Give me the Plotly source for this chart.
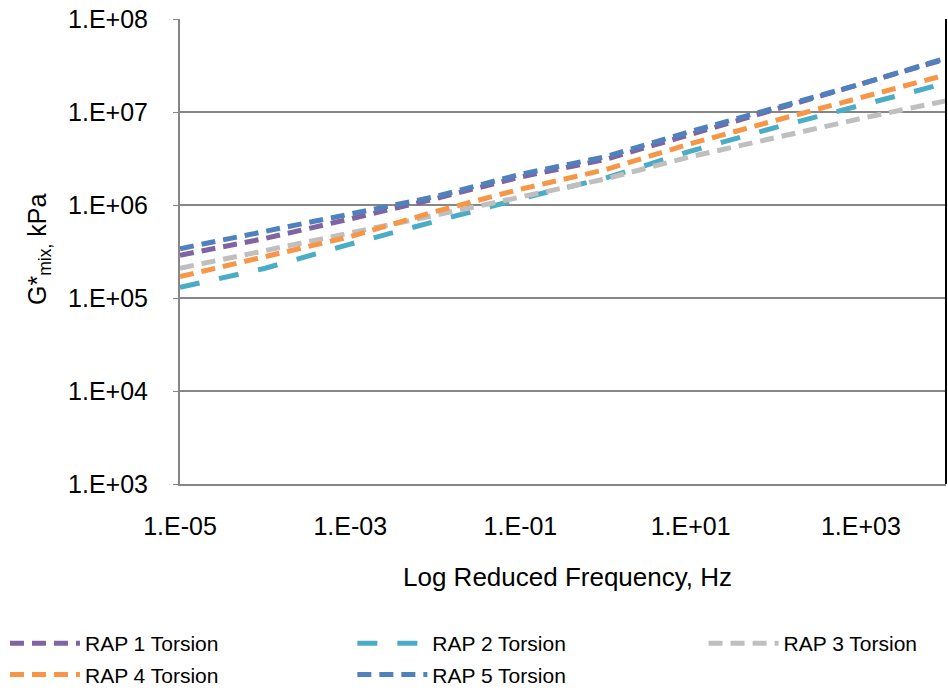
import plotly.graph_objects as go

# Reduced frequency, Hz
freq = [1e-5, 1e-4, 1e-3, 1e-2, 1e-1, 1e0, 1e1, 1e2, 1e3, 1e4]

# |G*| of mixture, kPa
rap1 = [2.88e5, 4.37e5, 7.08e5, 1.17e6, 2.00e6, 3.09e6, 5.75e6, 1.07e7, 1.95e7, 3.72e7]
rap2 = [1.30e5, 2.09e5, 3.80e5, 6.61e5, 1.17e6, 1.95e6, 3.80e6, 6.84e6, 1.17e7, 2.04e7]
rap3 = [2.09e5, 3.20e5, 5.01e5, 7.76e5, 1.23e6, 1.91e6, 3.31e6, 5.37e6, 8.51e6, 1.32e7]
rap4 = [1.70e5, 2.75e5, 4.57e5, 8.51e5, 1.48e6, 2.40e6, 4.57e6, 8.13e6, 1.41e7, 2.51e7]
rap5 = [3.39e5, 5.25e5, 8.13e5, 1.23e6, 2.14e6, 3.31e6, 6.17e6, 1.10e7, 2.00e7, 3.80e7]

names = ["RAP 1 Torsion", "RAP 2 Torsion", "RAP 3 Torsion", "RAP 4 Torsion", "RAP 5 Torsion"]

x_tickvals = [1e-5, 1e-3, 1e-1, 1e1, 1e3]
x_ticktext = ["1.E-05", "1.E-03", "1.E-01", "1.E+01", "1.E+03"]
y_tickvals = [1e3, 1e4, 1e5, 1e6, 1e7, 1e8]
y_ticktext = ["1.E+03", "1.E+04", "1.E+05", "1.E+06", "1.E+07", "1.E+08"]

colors = ["#8064A2", "#4BACC6", "#BFBFBF", "#F79646", "#4F81BD"]
dashes = ["14px,8px", "20px,20px", "14px,8px", "14px,8px", "14px,8px"]
legends = ["legend", "legend2", "legend3", "legend", "legend2"]

FONT = "Liberation Sans, Arial, sans-serif"

fig = go.Figure()
for i, ys in enumerate([rap1, rap2, rap3, rap4, rap5]):
    fig.add_trace(go.Scatter(
        x=freq, y=ys, mode="lines", name=names[i],
        line=dict(color=colors[i], width=5, dash=dashes[i]),
        legend=legends[i], legendgroup=names[i],
    ))

leg_common = dict(orientation="v", yanchor="top", xanchor="left",
                  font=dict(family=FONT, size=21, color="#000000"),
                  bgcolor="rgba(0,0,0,0)", itemwidth=70, tracegroupgap=1,
                  itemclick=False)

leg_y = -(623 - 484) / 465

fig.update_layout(
    width=948, height=692,
    margin=dict(l=180, r=2, t=19, b=208, autoexpand=False),
    paper_bgcolor="white", plot_bgcolor="white",
    font=dict(family=FONT, size=25, color="#000000"),
    showlegend=True,
    legend=dict(x=-0.2285, y=leg_y, **leg_common),
    legend2=dict(x=0.225, y=leg_y, **leg_common),
    legend3=dict(x=0.6835, y=leg_y, **leg_common),
    xaxis=dict(type="log", range=[-5, 4], tickvals=x_tickvals, ticktext=x_ticktext,
               showgrid=False, zeroline=False, showline=True, linecolor="#868686",
               linewidth=2, ticks="", ticklabelstandoff=19,
               tickfont=dict(family=FONT, size=25, color="#000000")),
    yaxis=dict(type="log", range=[3, 8], tickvals=y_tickvals, ticktext=y_ticktext,
               showgrid=True, gridcolor="#868686", gridwidth=1.5, zeroline=False,
               showline=True, linecolor="#868686", linewidth=2,
               ticks="outside", ticklen=5, tickcolor="#868686", ticklabelstandoff=20,
               tickfont=dict(family=FONT, size=25, color="#000000")),
    annotations=[
        dict(text="Log Reduced Frequency, Hz", xref="paper", yref="paper",
             x=(567 - 180) / 766, y=-(577 - 484) / 465, showarrow=False,
             xanchor="center", yanchor="middle",
             font=dict(family=FONT, size=26, color="#000000")),
        dict(text="G*<sub>mix,</sub> kPa", xref="paper", yref="paper",
             x=-(180 - 39) / 766, y=(484 - 250) / 465, showarrow=False, textangle=-90,
             xanchor="center", yanchor="middle",
             font=dict(family=FONT, size=25, color="#000000")),
    ],
    shapes=[dict(type="line", xref="paper", yref="paper", x0=1, x1=1, y0=0, y1=1,
                 line=dict(color="#000000", width=2))],
)

fig.write_html("out.html", config={"displayModeBar": False},
               post_script="document.body.style.margin='0';document.body.style.overflow='hidden';")
